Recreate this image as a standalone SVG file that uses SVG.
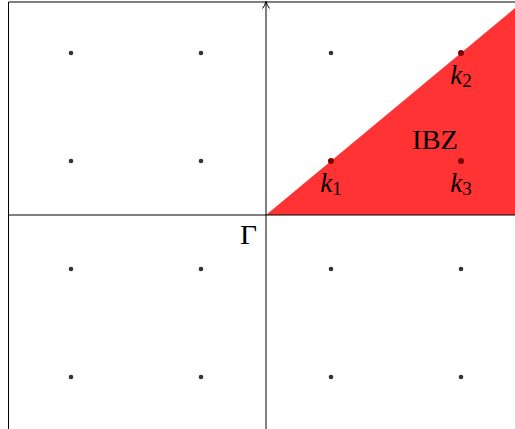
<svg xmlns="http://www.w3.org/2000/svg" width="515" height="429" viewBox="0 0 515 429">
<style>
.frame{fill:none;stroke:#000;stroke-width:1}
.axis{fill:none;stroke:#000;stroke-width:1}
.dot{fill:#333}
.rdot{fill:#7a0000}
.lbl{font-family:"Liberation Serif",serif;font-size:27px;fill:#000}
.it{font-style:italic}
.sub{font-size:19px;font-style:normal}
</style>
<defs>
<marker id="arr" markerWidth="10" markerHeight="10" refX="8" refY="5" orient="auto" markerUnits="userSpaceOnUse">
<path d="M1,1.5 Q4,4 8,5 Q4,6 1,8.5" fill="none" stroke="#000" stroke-width="1"/>
</marker>
</defs>
<rect width="515" height="429" fill="#fff"/>
<g id="ibz">
<polygon points="266,215 515,8.1 515,215" fill="#ff3333"/>
</g>
<g id="frame">
<path class="frame" d="M8.5,429 V2 H515"/>
</g>
<g id="connectors">
<line class="axis" x1="9" y1="215" x2="515" y2="215"/>
<line class="axis" x1="266" y1="429" x2="266" y2="1.5" marker-end="url(#arr)"/>
</g>
<g id="lattice">
<circle class="dot" cx="71" cy="53" r="2.3"/>
<circle class="dot" cx="201" cy="53" r="2.3"/>
<circle class="dot" cx="331" cy="53" r="2.3"/>
<circle class="dot" cx="71" cy="161" r="2.3"/>
<circle class="dot" cx="201" cy="161" r="2.3"/>
<circle class="dot" cx="71" cy="269" r="2.3"/>
<circle class="dot" cx="201" cy="269" r="2.3"/>
<circle class="dot" cx="331" cy="269" r="2.3"/>
<circle class="dot" cx="461" cy="269" r="2.3"/>
<circle class="dot" cx="71" cy="377" r="2.3"/>
<circle class="dot" cx="201" cy="377" r="2.3"/>
<circle class="dot" cx="331" cy="377" r="2.3"/>
<circle class="dot" cx="461" cy="377" r="2.3"/>
</g>
<g id="k1">
<circle class="rdot" cx="331" cy="161" r="3"/>
<text class="lbl" x="331" y="192" text-anchor="middle"><tspan class="it">k</tspan><tspan class="sub" dy="3">1</tspan></text>
</g>
<g id="k2">
<circle class="rdot" cx="461" cy="53" r="3"/>
<text class="lbl" x="461" y="84" text-anchor="middle"><tspan class="it">k</tspan><tspan class="sub" dy="3">2</tspan></text>
</g>
<g id="k3">
<circle class="rdot" cx="461" cy="161" r="3"/>
<text class="lbl" x="461" y="192" text-anchor="middle"><tspan class="it">k</tspan><tspan class="sub" dy="3">3</tspan></text>
</g>
<g id="ibz-label">
<text class="lbl" x="412" y="149" textLength="46" lengthAdjust="spacingAndGlyphs">IBZ</text>
</g>
<g id="gamma">
<text class="lbl" x="240" y="244" textLength="17" lengthAdjust="spacingAndGlyphs">Γ</text>
</g>
</svg>
